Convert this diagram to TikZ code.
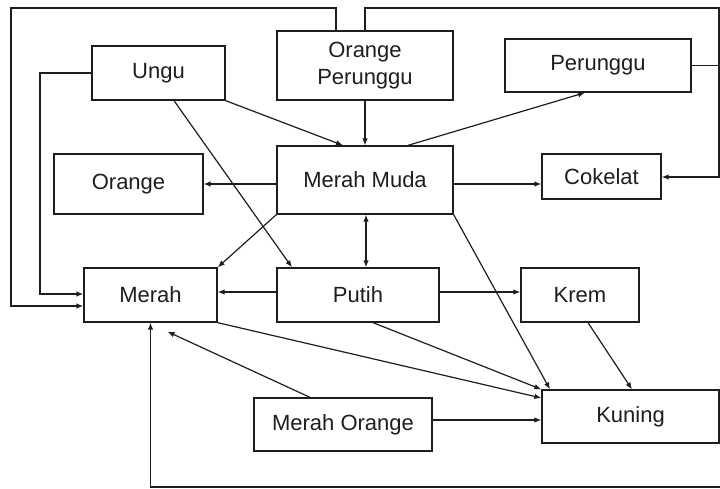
\documentclass[tikz,border=0pt]{standalone}
\usepackage{fontspec}
\setmainfont{Liberation Sans}
\usetikzlibrary{arrows.meta,calc}
\definecolor{ink}{HTML}{1E1E1E}
\begin{document}
\begin{tikzpicture}[x=1pt,y=-1pt,
  box/.style={draw=ink,line width=1.3pt,rectangle,inner sep=0pt,text=ink,
    font=\fontsize{22}{27}\selectfont,align=center},
  conn/.style={draw=ink,line width=1.2pt,-{Latex[length=7pt,width=5.5pt]}},
  plain/.style={draw=ink,line width=1.2pt}]
\useasboundingbox (0,0) rectangle (720,489);
\fill[white] (0,0) rectangle (720,489);
% boxes
\node[box,minimum width=133pt,minimum height=54pt] (ungu) at (158.5,73) {Ungu};
\node[box,minimum width=176pt,minimum height=69pt] (op) at (365,65.5) {Orange\\Perunggu};
\node[box,minimum width=186pt,minimum height=53pt] (per) at (598,65.5) {Perunggu};
\node[box,minimum width=149pt,minimum height=60pt] (orange) at (128.5,184) {Orange};
\node[box,minimum width=176pt,minimum height=68pt] (mm) at (365,180) {Merah Muda};
\node[box,minimum width=119pt,minimum height=45pt] (cok) at (601.5,176.5) {Cokelat};
\node[box,minimum width=133pt,minimum height=54pt] (merah) at (150.5,295) {Merah};
\node[box,minimum width=162pt,minimum height=54pt] (putih) at (358,295) {Putih};
\node[box,minimum width=118pt,minimum height=54pt] (krem) at (580,295) {Krem};
\node[box,minimum width=178pt,minimum height=53pt] (mo) at (343,424.5) {Merah Orange};
\node[box,minimum width=177pt,minimum height=53pt] (kuning) at (630.5,416.5) {Kuning};
\coordinate (br) at (720,487);
% connectors
\draw[conn] (ungu.south east) -- (343,0 |- mm.north);
\draw[conn] (174,0 |- ungu.south) -- (292,0 |- putih.north);
\draw[conn] (op.south) -- (mm.north);
\draw[conn] (408,0 |- mm.north) -- (585,0 |- per.south);
\draw[conn] (mm.west |- 0,184) -- (orange.east |- 0,184);
\draw[conn] (mm.east |- 0,184) -- (cok.west |- 0,184);
\draw[conn,{Latex[length=7pt,width=5.5pt]}-{Latex[length=7pt,width=5.5pt]}] (366,0 |- mm.south) -- (366,0 |- putih.north);
\draw[conn] (mm.south west) -- (merah.north east);
\draw[conn] (mm.south east) -- (550,0 |- kuning.north);
\draw[conn] (putih.west |- 0,292) -- (merah.east |- 0,292);
\draw[conn] (putih.east |- 0,292) -- (krem.west |- 0,292);
\draw[conn] (373,0 |- putih.south) -- (kuning.north west);
\draw[conn] (merah.south east) -- (kuning.west |- 0,398);
\draw[conn] (588,0 |- krem.south) -- (632,0 |- kuning.north);
\draw[conn] (mo.east |- 0,420) -- (kuning.west |- 0,420);
\draw[conn] (310,0 |- mo.north) -- ($(merah.south)+(17,9)$);
\draw[conn] (336,0 |- op.north) |- (11,8) |- (merah.west |- 0,306);
\draw[conn] (ungu.west) -| (40,294) -- (merah.west |- 0,294);
\draw[conn] (op.north) |- (719,8) |- (cok.east |- 0,177);
\draw[plain] (per.east) -- (719,0 |- per.east);
\draw[conn] (br) -| (merah.south);
\end{tikzpicture}
\end{document}
